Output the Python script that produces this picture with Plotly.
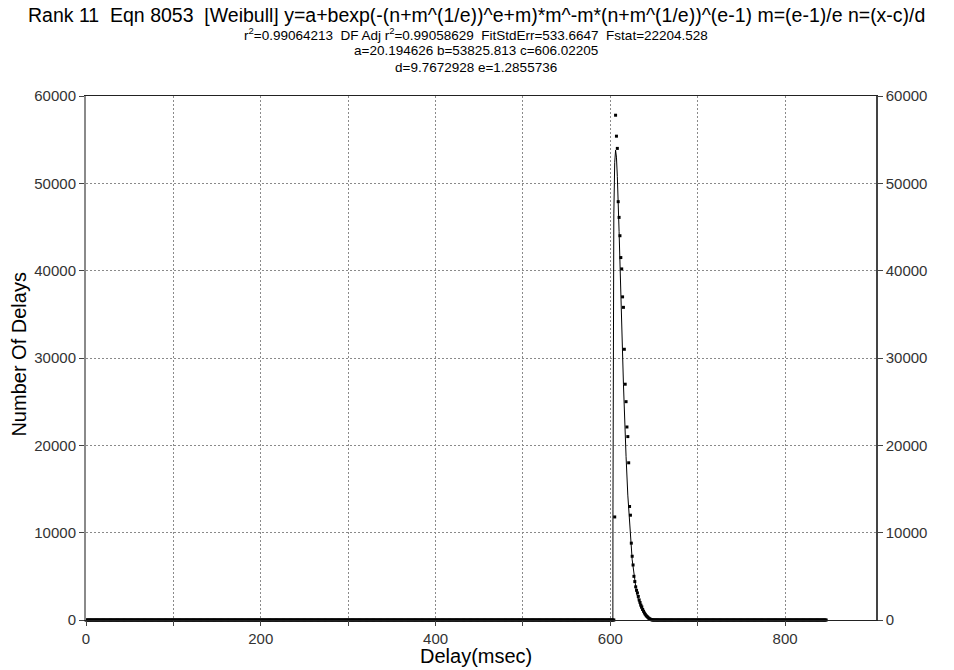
import plotly.graph_objects as go

# ---- data ----
# measured histogram points around the peak (delay ms, count)
peak_delays = [605, 606, 607, 608, 609, 610, 611, 612, 613, 614, 615, 616, 617, 618, 619,
               620, 621, 622, 623, 624, 625, 626, 627, 628, 629, 630, 631, 632, 633, 634,
               635, 636, 637, 638, 639, 640, 641, 642, 643, 644, 645, 646, 647]
peak_counts = [11800, 57800, 55400, 54000, 47900, 46100, 44000, 41500, 40200, 37000, 35800,
               31000, 27000, 25000, 22100, 21000, 18000, 13000, 12000, 8800, 7300, 6300, 5000,
               4400, 3800, 3400, 3100, 2700, 2300, 2000, 1700, 1500, 1200, 1000, 800, 650, 500,
               400, 300, 200, 120, 80, 40]
# all other bins read as zero counts (the thick baseline)
zero_delays = list(range(0, 605)) + list(range(648, 848))
zero_counts = [0] * len(zero_delays)

# fitted Weibull curve
fit_x = [0, 602.9, 603.0, 603.5, 604, 605, 606, 607, 608, 610, 612, 615, 618, 620, 625,
         630, 635, 640, 645, 650, 660, 847]
fit_y = [20, 20, 12700, 39500, 46500, 52400, 53800, 53000, 50800, 44500, 37300, 27000,
         18700, 14300, 6900, 3100, 1300, 560, 230, 100, 30, 20]

x_tickvals = [0, 100, 200, 300, 400, 500, 600, 700, 800]
x_ticktext = ["0", "", "200", "", "400", "", "600", "", "800"]
y_tickvals = [0, 10000, 20000, 30000, 40000, 50000, 60000]
y_ticktext = ["0", "10000", "20000", "30000", "40000", "50000", "60000"]

S2 = "\u00a0 "  # double space kept visible
title_lines = [
    f"Rank 11{S2}Eqn 8053{S2}[Weibull] y=a+bexp(-(n+m^(1/e))^e+m)*m^-m*(n+m^(1/e))^(e-1) m=(e-1)/e n=(x-c)/d",
    f"r<sup>2</sup>=0.99064213{S2}DF Adj r<sup>2</sup>=0.99058629{S2}FitStdErr=533.6647{S2}Fstat=22204.528",
    "a=20.194626 b=53825.813 c=606.02205",
    "d=9.7672928 e=1.2855736",
]

FONT = "Liberation Sans, Arial, sans-serif"

fig = go.Figure()
fig.add_trace(go.Scatter(x=zero_delays, y=zero_counts, mode="markers",
                         marker=dict(symbol="square", size=3, color="black"),
                         cliponaxis=False, showlegend=False))
fig.add_trace(go.Scatter(x=fit_x, y=fit_y, mode="lines",
                         line=dict(color="black", width=1), cliponaxis=False,
                         showlegend=False))
fig.add_trace(go.Scatter(x=peak_delays, y=peak_counts, mode="markers",
                         marker=dict(symbol="square", size=3, color="black"),
                         cliponaxis=False, showlegend=False))
# invisible trace to carry the right-hand axis
fig.add_trace(go.Scatter(x=[0], y=[0], yaxis="y2", mode="markers",
                         marker=dict(opacity=0), showlegend=False, hoverinfo="skip"))

fig.update_layout(
    width=946, height=662,
    margin=dict(l=78, r=78, t=88, b=50, autoexpand=False),
    paper_bgcolor="white", plot_bgcolor="white",
    font=dict(family=FONT, size=15, color="#222"),
    xaxis=dict(range=[0, 904], tickvals=x_tickvals, ticktext=x_ticktext,
               showgrid=True, gridcolor="#8a8a8a", gridwidth=1, griddash="2px,2px",
               showline=True, linecolor="#222", linewidth=1, mirror=True,
               ticks="outside", ticklen=5, tickcolor="#444",
               tickfont=dict(size=15, color="#333"), zeroline=False),
    yaxis=dict(range=[0, 60000], tickvals=y_tickvals, ticktext=y_ticktext,
               showgrid=True, gridcolor="#8a8a8a", gridwidth=1, griddash="2px,2px",
               showline=True, linecolor="#8a8a8a", linewidth=2,
               ticks="outside", ticklen=5, tickcolor="#444",
               tickfont=dict(size=15, color="#333"), zeroline=False),
    yaxis2=dict(range=[0, 60000], tickvals=y_tickvals, ticktext=y_ticktext,
                overlaying="y", side="right", showgrid=False,
                showline=True, linecolor="#444", linewidth=1.5,
                ticks="outside", ticklen=5, tickcolor="#444",
                tickfont=dict(size=15, color="#333"), zeroline=False),
)

title_y = [1.1546, 1.1183, 1.0868, 1.0544]
title_size = [19.5, 13.5, 13.5, 13.5]
for txt, yy, sz in zip(title_lines, title_y, title_size):
    fig.add_annotation(text=txt, xref="paper", yref="paper", x=0.494, y=yy,
                       xanchor="center", yanchor="middle", showarrow=False,
                       font=dict(family=FONT, size=sz, color="black"))

fig.add_annotation(text="Delay(msec)", xref="paper", yref="paper", x=0.494, y=-0.069,
                   xanchor="center", yanchor="middle", showarrow=False,
                   font=dict(family=FONT, size=20, color="black"))
fig.add_annotation(text="Number Of Delays", xref="paper", yref="paper", x=-0.0845, y=0.507,
                   xanchor="center", yanchor="middle", showarrow=False, textangle=-90,
                   font=dict(family=FONT, size=20, color="black"))

fig.write_html("out.html")
